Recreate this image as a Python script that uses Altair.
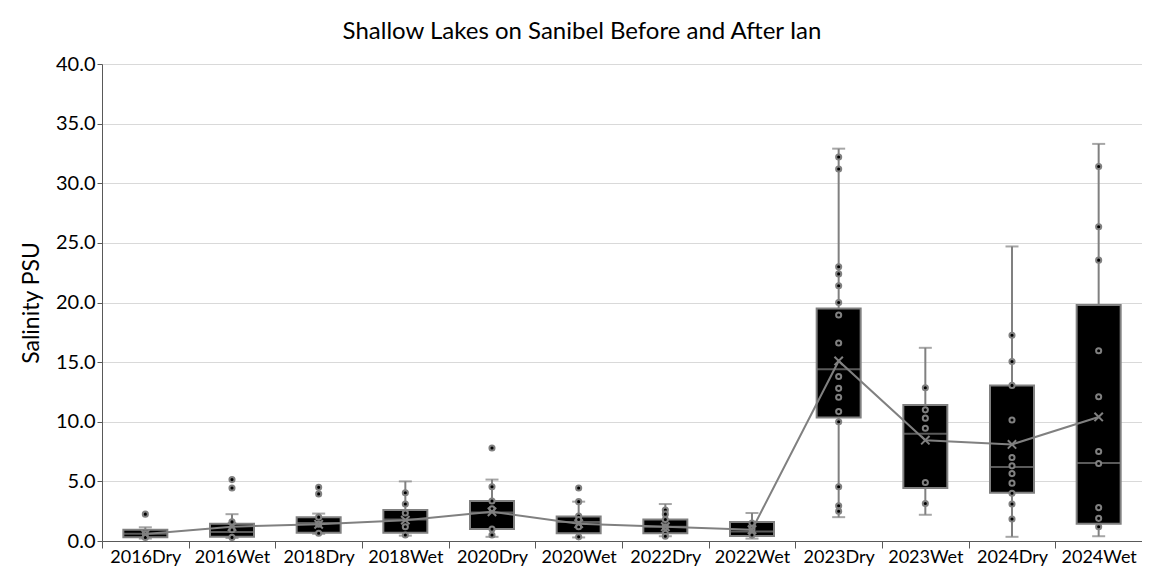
import altair as alt
import pandas as pd

categories = ["2016Dry", "2016Wet", "2018Dry", "2018Wet", "2020Dry", "2020Wet",
              "2022Dry", "2022Wet", "2023Dry", "2023Wet", "2024Dry", "2024Wet"]
q1 =      [0.32, 0.36, 0.70, 0.70, 1.00, 0.65, 0.65, 0.42, 10.35, 4.45, 4.05, 1.45]
median =  [0.60, 0.75, 1.50, 1.80, 2.40, 1.60, 1.20, 0.80, 14.40, 9.00, 6.20, 6.55]
q3 =      [0.95, 1.45, 2.00, 2.60, 3.35, 2.05, 1.80, 1.60, 19.50, 11.40, 13.05, 19.80]
wlo =     [0.20, 0.25, 0.60, 0.45, 0.35, 0.30, 0.40, 0.20, 2.00, 2.20, 0.35, 0.40]
whi =     [1.15, 2.25, 2.30, 5.00, 5.15, 3.30, 3.10, 2.35, 32.90, 16.20, 24.70, 33.30]
mean =    [0.58, 1.20, 1.40, 1.75, 2.45, 1.45, 1.20, 0.95, 15.10, 8.45, 8.10, 10.40]

points = [
    [2.25, 0.6, 0.3],
    [5.15, 4.45, 1.6, 0.95, 0.3],
    [4.5, 3.95, 2.0, 1.4, 0.65],
    [4.05, 3.1, 2.35, 1.2, 0.5],
    [7.8, 4.55, 3.35, 2.7, 1.0, 0.5],
    [4.45, 3.3, 2.1, 1.8, 1.2, 0.35],
    [2.6, 2.25, 1.8, 1.2, 0.65, 0.4],
    [1.5, 1.0, 0.5],
    [32.2, 31.2, 23.0, 22.4, 21.4, 20.0, 18.95, 16.6, 13.8, 12.8, 12.05, 10.85, 10.0, 4.55, 2.96, 2.5],
    [12.85, 11.0, 10.3, 9.45, 4.9, 3.15],
    [17.25, 15.05, 13.05, 10.15, 7.0, 6.3, 5.65, 4.85, 4.0, 3.1, 1.85],
    [31.4, 26.35, 23.55, 15.95, 12.1, 7.5, 6.5, 2.8, 1.9, 1.2],
]

stats = pd.DataFrame({"cat": categories, "q1": q1, "median": median, "q3": q3,
                      "wlo": wlo, "whi": whi, "mean": mean})
pts = pd.DataFrame([{"cat": c, "v": v} for c, vals in zip(categories, points) for v in vals])

GREY = "#808080"
FONT = "Lato"

x = alt.X("cat:N", sort=categories, title=None,
          axis=alt.Axis(labelAngle=0, labelFontSize=18, labelFont=FONT, labelColor="#000000",
                        domainColor="#595959", tickColor="#595959", tickSize=7,
                        tickBand="extent", labelPadding=0, grid=False))
yscale = alt.Scale(domain=[0, 40], nice=False, zero=True)
y = alt.Y("q1:Q", scale=yscale, title="Salinity PSU",
          axis=alt.Axis(values=[0, 5, 10, 15, 20, 25, 30, 35, 40], format=".1f",
                        labelFontSize=20, labelFont=FONT, labelColor="#000000",
                        titleFontSize=23, titleFont=FONT, titleFontWeight="normal",
                        titleColor="#000000", titlePadding=12,
                        domainColor="#595959", tickColor="#595959", tickSize=5,
                        gridColor="#d9d9d9", gridWidth=1))

base = alt.Chart(stats)

whisker = base.mark_rule(color=GREY, strokeWidth=2).encode(
    x=x, y=alt.Y("wlo:Q", scale=yscale), y2="whi:Q")
cap_hi = base.mark_tick(color=GREY, size=13, thickness=2, orient="horizontal").encode(
    x=x, y=alt.Y("whi:Q", scale=yscale))
cap_lo = base.mark_tick(color=GREY, size=13, thickness=2, orient="horizontal").encode(
    x=x, y=alt.Y("wlo:Q", scale=yscale))
box = base.mark_bar(size=44, fill="#000000", stroke=GREY, strokeWidth=2).encode(
    x=x, y=y, y2="q3:Q")
med = base.mark_tick(color=GREY, size=44, thickness=2, orient="horizontal").encode(
    x=x, y=alt.Y("median:Q", scale=yscale))
dots = alt.Chart(pts).mark_point(shape="circle", filled=True, fill="#000000", stroke=GREY,
                                 strokeWidth=2, size=26, opacity=1).encode(
    x=x, y=alt.Y("v:Q", scale=yscale))
mline = base.mark_line(color=GREY, strokeWidth=2).encode(
    x=x, y=alt.Y("mean:Q", scale=yscale))
mmark = base.mark_point(shape="M-1,-1L1,1M-1,1L1,-1", filled=False, stroke=GREY,
                        strokeWidth=2, size=70, opacity=1).encode(
    x=x, y=alt.Y("mean:Q", scale=yscale))

chart = alt.layer(whisker, cap_hi, cap_lo, box, med, dots, mline, mmark).properties(
    width=1040, height=477,
    background="white",
    title=alt.TitleParams("Shallow Lakes on Sanibel Before and After Ian", fontSize=24,
                          font=FONT, fontWeight="normal", color="#000000",
                          anchor="middle", dx=-40, offset=10),
    autosize=alt.AutoSizeParams(type="none"),
    padding={"left": 94, "top": 56, "right": 0, "bottom": 28},
).configure_view(strokeWidth=0, stroke="transparent")

chart.save("out.html", embed_options={"renderer": "svg", "actions": False})
